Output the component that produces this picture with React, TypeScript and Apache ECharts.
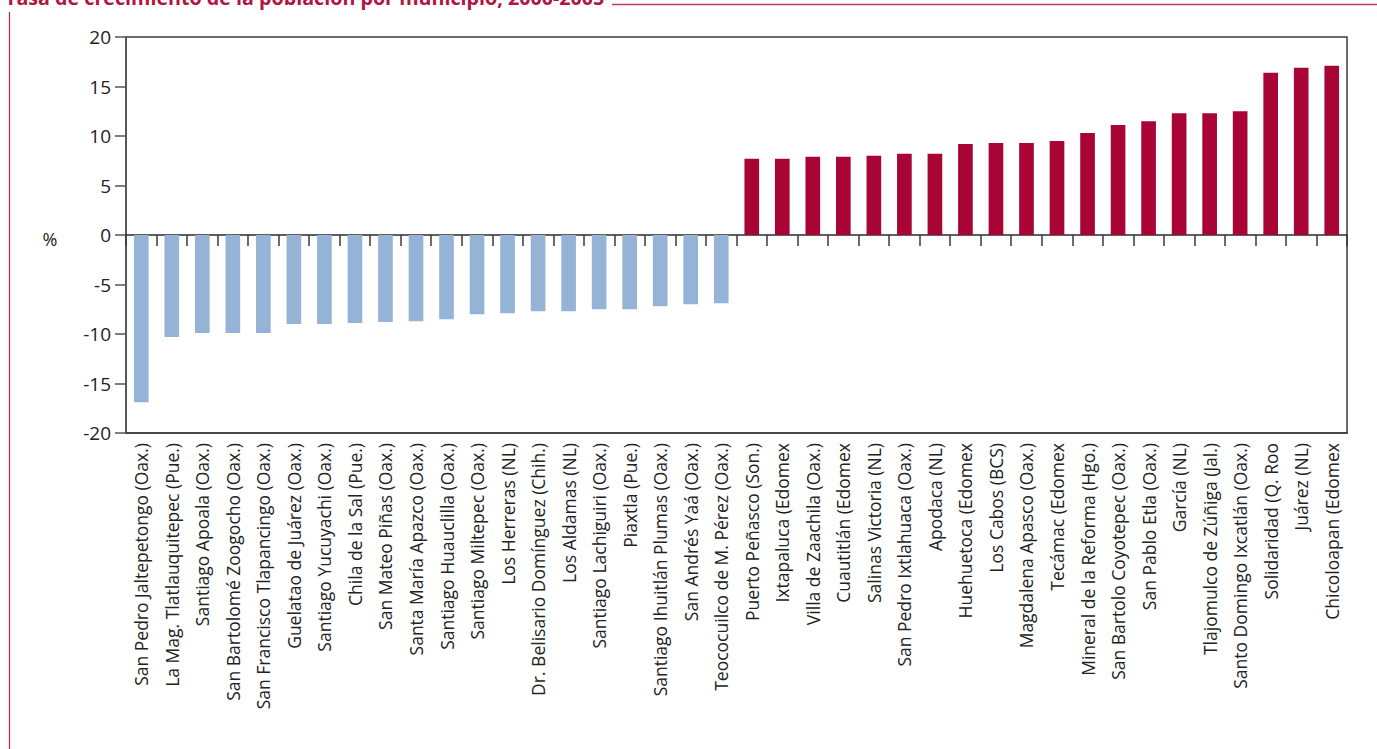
import React, { useEffect, useRef } from "react";
import * as echarts from "echarts";

const categories = [
  "San Pedro Jaltepetongo (Oax.)",
  "La Mag. Tlatlauquitepec (Pue.)",
  "Santiago Apoala (Oax.)",
  "San Bartolomé Zoogocho (Oax.)",
  "San Francisco Tlapancingo (Oax.)",
  "Guelatao de Juárez (Oax.)",
  "Santiago Yucuyachi (Oax.)",
  "Chila de la Sal (Pue.)",
  "San Mateo Piñas (Oax.)",
  "Santa María Apazco (Oax.)",
  "Santiago Huauclilla (Oax.)",
  "Santiago Miltepec (Oax.)",
  "Los Herreras (NL)",
  "Dr. Belisario Domínguez (Chih.)",
  "Los Aldamas (NL)",
  "Santiago Lachiguiri (Oax.)",
  "Piaxtla (Pue.)",
  "Santiago Ihuitlán Plumas (Oax.)",
  "San Andrés Yaá (Oax.)",
  "Teococuilco de M. Pérez (Oax.)",
  "Puerto Peñasco (Son.)",
  "Ixtapaluca (Edomex",
  "Villa de Zaachila (Oax.)",
  "Cuautitlán (Edomex",
  "Salinas Victoria (NL)",
  "San Pedro Ixtlahuaca (Oax.)",
  "Apodaca (NL)",
  "Huehuetoca (Edomex",
  "Los Cabos (BCS)",
  "Magdalena Apasco (Oax.)",
  "Tecámac (Edomex",
  "Mineral de la Reforma (Hgo.)",
  "San Bartolo Coyotepec (Oax.)",
  "San Pablo Etla (Oax.)",
  "García (NL)",
  "Tlajomulco de Zúñiga (Jal.)",
  "Santo Domingo Ixcatlán (Oax.)",
  "Solidaridad (Q. Roo",
  "Juárez (NL)",
  "Chicoloapan (Edomex",
];

const values = [
  -16.9, -10.3, -9.9, -9.9, -9.9, -9.0, -9.0, -8.9, -8.8, -8.7,
  -8.5, -8.0, -7.9, -7.7, -7.7, -7.5, -7.5, -7.2, -7.0, -6.9,
  7.7, 7.7, 7.9, 7.9, 8.0, 8.2, 8.2, 9.2, 9.3, 9.3,
  9.5, 10.3, 11.1, 11.5, 12.3, 12.3, 12.5, 16.4, 16.9, 17.1,
];

const yTicks = { min: -20, max: 20, interval: 5 };

const title = "Tasa de crecimiento de la población por municipio, 2000-2005";

const FONT = "'Open Sans', 'Noto Sans', sans-serif";
const NEG = "#95B3D7";
const POS = "#A80536";
const CRIMSON = "#B5123F";

export default function App() {
  const ref = useRef<HTMLDivElement>(null);
  useEffect(() => {
    if (!ref.current) return;
    const chart = echarts.init(ref.current, null, { renderer: "svg" });
    chart.setOption({
      animation: false,
      backgroundColor: "#ffffff",
      textStyle: { fontFamily: FONT },
      grid: {
        left: 126,
        right: 30,
        top: 37,
        bottom: 316,
        show: true,
        borderColor: "#3a3a3a",
        borderWidth: 1.5,
        backgroundColor: "transparent",
      },
      xAxis: [
        {
          type: "category",
          data: categories,
          position: "bottom",
          axisLine: { show: true, onZero: false, lineStyle: { color: "#3a3a3a", width: 1.5 } },
          axisTick: { show: false },
          axisLabel: {
            rotate: 90,
            interval: 0,
            margin: 10,
            fontSize: 17.5,
            color: "#222",
            fontFamily: FONT,
          },
          splitLine: { show: false },
        },
        {
          type: "category",
          data: categories,
          position: "top",
          axisLine: { show: true, onZero: true, lineStyle: { color: "#2a2a2a", width: 1.5 } },
          axisTick: { show: true, inside: true, length: 11, interval: 0, lineStyle: { color: "#3a3a3a", width: 1.5 } },
          axisLabel: { show: false },
          splitLine: { show: false },
        },
      ],
      yAxis: {
        type: "value",
        min: yTicks.min,
        max: yTicks.max,
        interval: yTicks.interval,
        axisLine: { show: true, lineStyle: { color: "#555", width: 1.5 } },
        axisTick: { show: true, length: 11, lineStyle: { color: "#555", width: 1.5 } },
        axisLabel: { fontSize: 19, color: "#222", margin: 15, fontFamily: FONT },
        splitLine: { show: false },
      },
      series: [
        {
          type: "bar",
          xAxisIndex: 0,
          data: values,
          barWidth: "48%",
          itemStyle: {
            color: (p: any) => (p.value < 0 ? NEG : POS),
          },
        },
      ],
      graphic: [
        {
          type: "text",
          x: 5,
          y: -3,
          style: {
            text: title,
            fill: CRIMSON,
            font: `bold 19.7px ${FONT}`,
            align: "left",
            verticalAlign: "middle",
          },
        },
        {
          type: "line",
          shape: { x1: 612, y1: 4.5, x2: 1377, y2: 4.5 },
          style: { stroke: "#C43A62", lineWidth: 1.5 },
        },
        {
          type: "line",
          shape: { x1: 9.5, y1: 12, x2: 9.5, y2: 749 },
          style: { stroke: "#C81E50", lineWidth: 1.2 },
        },
        {
          type: "text",
          x: 50,
          y: 239,
          style: {
            text: "%",
            fill: "#222",
            font: `18px ${FONT}`,
            align: "center",
            verticalAlign: "middle",
          },
        },
      ],
    });
    return () => chart.dispose();
  }, []);
  return (
    <div
      ref={ref}
      style={{ position: "fixed", left: 0, top: 0, width: 1377, height: 749 }}
    />
  );
}
